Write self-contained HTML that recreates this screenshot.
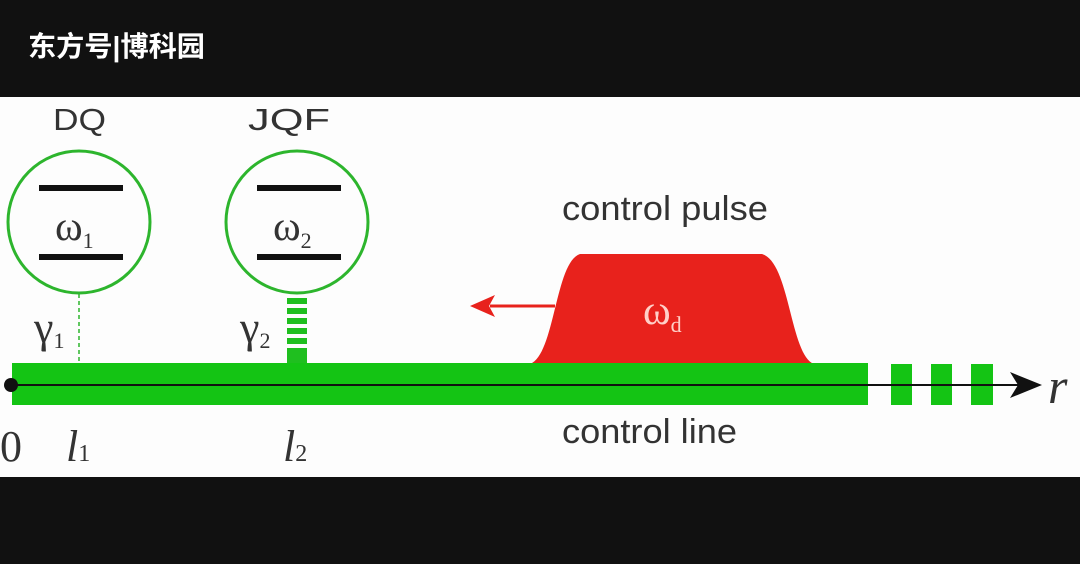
<!DOCTYPE html>
<html><head><meta charset="utf-8"><style>
html,body{margin:0;padding:0;background:#111;}
svg{display:block;}
</style></head><body>
<svg width="1080" height="564" viewBox="0 0 1080 564" xmlns="http://www.w3.org/2000/svg">
<rect x="0" y="0" width="1080" height="564" fill="#111"/>
<text x="28" y="56" fill="#fff" font-family="'Liberation Sans','Noto Sans CJK SC',sans-serif" font-weight="bold" font-size="28" textLength="177" lengthAdjust="spacingAndGlyphs">东方号|博科园</text>
<rect x="0" y="97" width="1080" height="380" fill="#fdfdfd"/>
<text x="53" y="130" font-family="'Liberation Sans',sans-serif" font-size="31" fill="#333" textLength="53" lengthAdjust="spacingAndGlyphs">DQ</text>
<text x="248" y="130" font-family="'Liberation Sans',sans-serif" font-size="31" fill="#333" textLength="82" lengthAdjust="spacingAndGlyphs">JQF</text>
<circle cx="79" cy="222" r="71" fill="none" stroke="#2db52d" stroke-width="3"/>
<circle cx="297" cy="222" r="71" fill="none" stroke="#2db52d" stroke-width="3"/>
<rect x="39" y="185" width="84" height="6" fill="#111"/>
<rect x="39" y="254" width="84" height="6" fill="#111"/>
<rect x="257" y="185" width="84" height="6" fill="#111"/>
<rect x="257" y="254" width="84" height="6" fill="#111"/>
<text x="55" y="240" font-family="'Liberation Serif',serif" font-size="42" fill="#333">ω<tspan font-size="22" dy="8">1</tspan></text>
<text x="273" y="240" font-family="'Liberation Serif',serif" font-size="42" fill="#333">ω<tspan font-size="22" dy="8">2</tspan></text>
<line x1="79" y1="294" x2="79" y2="363" stroke="#2db52d" stroke-width="1.5" stroke-dasharray="4,3"/>
<g fill="#1fbf1f">
<rect x="287" y="298" width="20" height="6"/>
<rect x="287" y="308" width="20" height="6"/>
<rect x="287" y="318" width="20" height="6"/>
<rect x="287" y="328" width="20" height="6"/>
<rect x="287" y="338" width="20" height="6"/>
<rect x="287" y="348" width="20" height="15"/>
</g>
<text x="34" y="342" font-family="'Liberation Serif',serif" font-size="44" fill="#333">γ<tspan font-size="22" dy="6">1</tspan></text>
<text x="240" y="342" font-family="'Liberation Serif',serif" font-size="44" fill="#333">γ<tspan font-size="22" dy="6">2</tspan></text>
<path d="M530,364 C555,355 555,262 580,254 L762,254 C790,262 790,355 814,364 Z" fill="#e8221c"/>
<line x1="555" y1="306" x2="490" y2="306" stroke="#e8221c" stroke-width="3"/>
<path d="M470,306 L495,295 L489,306 L495,317 Z" fill="#e8221c"/>
<text x="643" y="324" font-family="'Liberation Serif',serif" font-size="42" fill="#ffd0c8">ω<tspan font-size="22" dy="8">d</tspan></text>
<text x="562" y="220" font-family="'Liberation Sans',sans-serif" font-size="34" fill="#333" textLength="206" lengthAdjust="spacingAndGlyphs">control pulse</text>
<rect x="12" y="363" width="856" height="42" fill="#14c414"/>
<rect x="891" y="364" width="21" height="41" fill="#14c414"/>
<rect x="931" y="364" width="21" height="41" fill="#14c414"/>
<rect x="971" y="364" width="22" height="41" fill="#14c414"/>
<line x1="10" y1="385" x2="1020" y2="385" stroke="#111" stroke-width="2"/>
<path d="M1042,385 L1010,372 L1018,385 L1010,398 Z" fill="#111"/>
<circle cx="11" cy="385" r="7" fill="#111"/>
<text x="1048" y="403" font-family="'Liberation Serif',serif" font-style="italic" font-size="50" fill="#333">r</text>
<text x="562" y="443" font-family="'Liberation Sans',sans-serif" font-size="34" fill="#333" textLength="175" lengthAdjust="spacingAndGlyphs">control line</text>
<text x="0" y="461" font-family="'Liberation Serif',serif" font-size="44" fill="#333">0</text>
<text x="66" y="461" font-family="'Liberation Serif',serif" font-style="italic" font-size="44" fill="#333">l<tspan font-style="normal" font-size="24">1</tspan></text>
<text x="283" y="461" font-family="'Liberation Serif',serif" font-style="italic" font-size="44" fill="#333">l<tspan font-style="normal" font-size="24">2</tspan></text>
</svg>
</body></html>
